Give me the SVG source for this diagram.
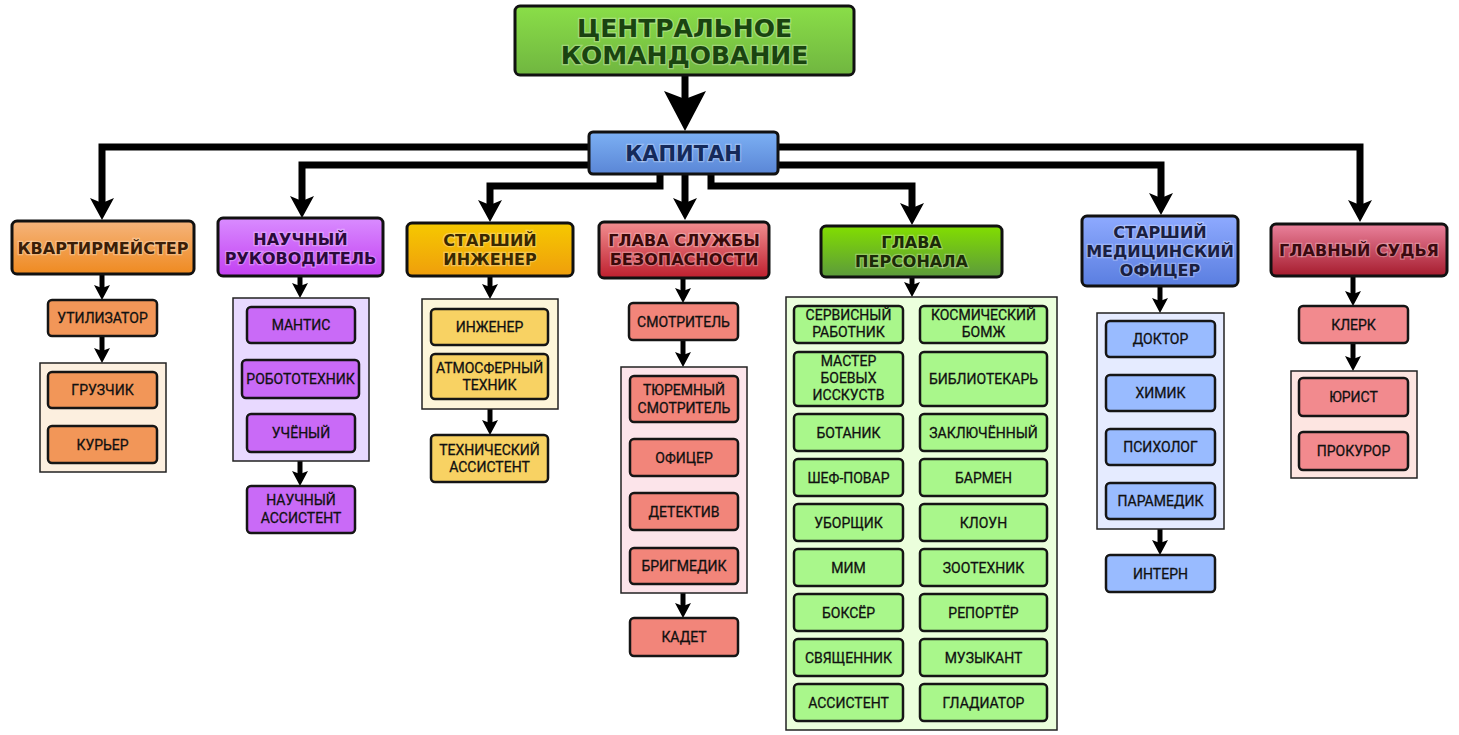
<svg xmlns="http://www.w3.org/2000/svg" width="1459" height="735" viewBox="0 0 1459 735">
<defs>
<linearGradient id="gCentral" x1="0" y1="0" x2="0" y2="1"><stop offset="0" stop-color="#8ade48"/><stop offset="1" stop-color="#70b640"/></linearGradient>
<linearGradient id="gCaptain" x1="0" y1="0" x2="0" y2="1"><stop offset="0" stop-color="#7cb0f4"/><stop offset="1" stop-color="#5a86d6"/></linearGradient>
<linearGradient id="gOrange" x1="0" y1="0" x2="0" y2="1"><stop offset="0" stop-color="#f5b47c"/><stop offset="1" stop-color="#ef8a20"/></linearGradient>
<linearGradient id="gPurple" x1="0" y1="0" x2="0" y2="1"><stop offset="0" stop-color="#d98cff"/><stop offset="1" stop-color="#c340f2"/></linearGradient>
<linearGradient id="gYellow" x1="0" y1="0" x2="0" y2="1"><stop offset="0" stop-color="#f6c900"/><stop offset="1" stop-color="#ef9e0c"/></linearGradient>
<linearGradient id="gRed" x1="0" y1="0" x2="0" y2="1"><stop offset="0" stop-color="#f28e90"/><stop offset="1" stop-color="#be1f2e"/></linearGradient>
<linearGradient id="gGreen" x1="0" y1="0" x2="0" y2="1"><stop offset="0" stop-color="#82de00"/><stop offset="1" stop-color="#5c9a3c"/></linearGradient>
<linearGradient id="gBlue" x1="0" y1="0" x2="0" y2="1"><stop offset="0" stop-color="#8eaaff"/><stop offset="1" stop-color="#5a7ee0"/></linearGradient>
<linearGradient id="gJudge" x1="0" y1="0" x2="0" y2="1"><stop offset="0" stop-color="#ea829c"/><stop offset="1" stop-color="#a61c2e"/></linearGradient>
<marker id="mBig" markerUnits="userSpaceOnUse" orient="auto" refX="8" refY="0" markerWidth="50" markerHeight="50" overflow="visible"><path d="M0,-21 L40,0 L0,21 L8,0 z" fill="#000"/></marker>
<marker id="mMed" markerUnits="userSpaceOnUse" orient="auto" refX="5" refY="0" markerWidth="30" markerHeight="30" overflow="visible"><path d="M0,-12 L22,0 L0,12 L5,0 z" fill="#000"/></marker>
<marker id="mSm" markerUnits="userSpaceOnUse" orient="auto" refX="3" refY="0" markerWidth="20" markerHeight="20" overflow="visible"><path d="M0,-8 L15,0 L0,8 L3,0 z" fill="#000"/></marker>
<style>
.head{stroke:#111;stroke-width:3}
.item{stroke:#151515;stroke-width:2.5}
.cont{stroke:#222;stroke-width:1.5}
.ht{font-family:"DejaVu Sans",sans-serif;font-weight:bold;font-size:16px;text-anchor:middle;paint-order:stroke;stroke:rgba(255,255,255,0.3);stroke-width:2.5px}
.it{font-family:Roboto,"Liberation Sans",sans-serif;font-size:14px;text-anchor:middle;fill:#111;stroke:#111;stroke-width:0.3px}
.big{fill:none;stroke:#000;stroke-width:7;stroke-linejoin:miter;stroke-linecap:butt}
.sm{fill:none;stroke:#000;stroke-width:5}
.cOr{fill:#f29658}.cPu{fill:#c96af7}.cYe{fill:#f8d263}.cRe{fill:#f2857a}.cGr{fill:#a9f78b}.cBl{fill:#99bbff}.cPk{fill:#f28a8e}
</style>
</defs>
<rect width="1459" height="735" fill="#fff"/>

<g id="connectors">
<path class="big" d="M685,75 V99" stroke-width="12" marker-end="url(#mBig)"/>
<path class="big" d="M589,147 H102 V203" marker-end="url(#mMed)"/>
<path class="big" d="M589,165 H302 V201" marker-end="url(#mMed)"/>
<path class="big" d="M660,170 V186 H490 V205" marker-end="url(#mMed)"/>
<path class="big" d="M685,170 V203" marker-end="url(#mMed)"/>
<path class="big" d="M711,170 V186 H912 V208" marker-end="url(#mMed)"/>
<path class="big" d="M778,165 H1161 V198" marker-end="url(#mMed)"/>
<path class="big" d="M778,147 H1360 V205" marker-end="url(#mMed)"/>
<path class="sm" d="M102,274 V288" marker-end="url(#mSm)"/>
<path class="sm" d="M102,336 V351" marker-end="url(#mSm)"/>
<path class="sm" d="M300,276 V286" marker-end="url(#mSm)"/>
<path class="sm" d="M300,461 V474" marker-end="url(#mSm)"/>
<path class="sm" d="M490,276 V287" marker-end="url(#mSm)"/>
<path class="sm" d="M490,409 V423" marker-end="url(#mSm)"/>
<path class="sm" d="M683,278 V291" marker-end="url(#mSm)"/>
<path class="sm" d="M683,340 V355" marker-end="url(#mSm)"/>
<path class="sm" d="M683,593 V606" marker-end="url(#mSm)"/>
<path class="sm" d="M912,277 V285" marker-end="url(#mSm)"/>
<path class="sm" d="M1160,286 V301" marker-end="url(#mSm)"/>
<path class="sm" d="M1160,529 V543" marker-end="url(#mSm)"/>
<path class="sm" d="M1353,276 V294" marker-end="url(#mSm)"/>
<path class="sm" d="M1353,343 V359" marker-end="url(#mSm)"/>
</g>

<g id="central">
<rect class="head" x="515" y="6" width="339" height="69" rx="5" fill="url(#gCentral)"/>
<text class="ht" x="684.5" y="37" fill="#1a4410" style="font-size:25px">ЦЕНТРАЛЬНОЕ</text>
<text class="ht" x="684.5" y="64" fill="#1a4410" style="font-size:25px">КОМАНДОВАНИЕ</text>
</g>
<g id="captain">
<rect class="head" x="589" y="132" width="189" height="42" rx="4" fill="url(#gCaptain)"/>
<text class="ht" x="683.5" y="161" fill="#152a5a" style="font-size:21px">КАПИТАН</text>
</g>

<g id="quartermaster">
<rect class="head" x="12" y="221" width="182" height="53" rx="5" fill="url(#gOrange)"/>
<text class="ht" x="103" y="254" fill="#3a1e08">КВАРТИРМЕЙСТЕР</text>
</g>
<g id="disposal"><rect class="item cOr" x="48" y="300" width="109" height="36" rx="4"/><text class="it" x="102.5" y="323">УТИЛИЗАТОР</text></g>
<g id="cargo-group"><rect class="cont" x="40" y="363" width="126" height="109" fill="#fcefdf"/></g>
<g id="loader"><rect class="item cOr" x="48" y="372" width="109" height="36" rx="4"/><text class="it" x="102.5" y="395">ГРУЗЧИК</text></g>
<g id="courier"><rect class="item cOr" x="48" y="426" width="109" height="37" rx="4"/><text class="it" x="102.5" y="449.5">КУРЬЕР</text></g>

<g id="research-director">
<rect class="head" x="218" y="218" width="165" height="58" rx="5" fill="url(#gPurple)"/>
<text class="ht" x="300.5" y="245" fill="#2a0a3a">НАУЧНЫЙ</text>
<text class="ht" x="300.5" y="264" fill="#2a0a3a">РУКОВОДИТЕЛЬ</text>
</g>
<g id="science-group"><rect class="cont" x="233" y="298" width="136" height="163" fill="#e8d9ff"/></g>
<g id="mantis"><rect class="item cPu" x="247" y="307" width="108" height="36" rx="4"/><text class="it" x="301" y="330">МАНТИС</text></g>
<g id="roboticist"><rect class="item cPu" x="242" y="360" width="117" height="38" rx="4"/><text class="it" x="300.5" y="384">РОБОТОТЕХНИК</text></g>
<g id="scientist"><rect class="item cPu" x="247" y="414" width="108" height="38" rx="4"/><text class="it" x="301" y="438">УЧЁНЫЙ</text></g>
<g id="research-assistant"><rect class="item cPu" x="247" y="486" width="108" height="47" rx="4"/><text class="it" x="301" y="505">НАУЧНЫЙ</text><text class="it" x="301" y="523">АССИСТЕНТ</text></g>

<g id="chief-engineer">
<rect class="head" x="407" y="223" width="166" height="53" rx="5" fill="url(#gYellow)"/>
<text class="ht" x="490" y="246" fill="#3a2800">СТАРШИЙ</text>
<text class="ht" x="490" y="265" fill="#3a2800">ИНЖЕНЕР</text>
</g>
<g id="engineering-group"><rect class="cont" x="422" y="299" width="136" height="110" fill="#fdf6da"/></g>
<g id="engineer"><rect class="item cYe" x="431" y="309" width="117" height="36" rx="4"/><text class="it" x="489.5" y="332">ИНЖЕНЕР</text></g>
<g id="atmos-tech"><rect class="item cYe" x="431" y="354" width="117" height="45" rx="4"/><text class="it" x="489.5" y="373">АТМОСФЕРНЫЙ</text><text class="it" x="489.5" y="390">ТЕХНИК</text></g>
<g id="tech-assistant"><rect class="item cYe" x="431" y="435" width="117" height="47" rx="4"/><text class="it" x="489.5" y="455">ТЕХНИЧЕСКИЙ</text><text class="it" x="489.5" y="472">АССИСТЕНТ</text></g>

<g id="head-of-security">
<rect class="head" x="599" y="222" width="170" height="56" rx="5" fill="url(#gRed)"/>
<text class="ht" x="684" y="246" fill="#3a0a0a">ГЛАВА СЛУЖБЫ</text>
<text class="ht" x="684" y="265" fill="#3a0a0a">БЕЗОПАСНОСТИ</text>
</g>
<g id="warden"><rect class="item cRe" x="629" y="303" width="109" height="37" rx="4"/><text class="it" x="683.5" y="326.5">СМОТРИТЕЛЬ</text></g>
<g id="security-group"><rect class="cont" x="621" y="367" width="126" height="226" fill="#fce4ea"/></g>
<g id="prison-warden"><rect class="item cRe" x="630" y="376" width="108" height="46" rx="4"/><text class="it" x="684" y="395">ТЮРЕМНЫЙ</text><text class="it" x="684" y="413">СМОТРИТЕЛЬ</text></g>
<g id="officer"><rect class="item cRe" x="630" y="439" width="108" height="37" rx="4"/><text class="it" x="684" y="462.5">ОФИЦЕР</text></g>
<g id="detective"><rect class="item cRe" x="630" y="493" width="108" height="37" rx="4"/><text class="it" x="684" y="516.5">ДЕТЕКТИВ</text></g>
<g id="brigmedic"><rect class="item cRe" x="630" y="548" width="108" height="36" rx="4"/><text class="it" x="684" y="571">БРИГМЕДИК</text></g>
<g id="cadet"><rect class="item cRe" x="630" y="618" width="108" height="38" rx="4"/><text class="it" x="684" y="642">КАДЕТ</text></g>

<g id="head-of-personnel">
<rect class="head" x="821" y="226" width="181" height="51" rx="5" fill="url(#gGreen)"/>
<text class="ht" x="911.5" y="248" fill="#1c2a08">ГЛАВА</text>
<text class="ht" x="911.5" y="267" fill="#1c2a08">ПЕРСОНАЛА</text>
</g>
<g id="service-group"><rect class="cont" x="786" y="297" width="271" height="433" fill="#ebffdc"/></g>
<g id="service-worker"><rect class="item cGr" x="794" y="306" width="109" height="37" rx="4"/><text class="it" x="848.5" y="320">СЕРВИСНЫЙ</text><text class="it" x="848.5" y="337">РАБОТНИК</text></g>
<g id="space-bum"><rect class="item cGr" x="920" y="306" width="127" height="37" rx="4"/><text class="it" x="983.5" y="320">КОСМИЧЕСКИЙ</text><text class="it" x="983.5" y="337">БОМЖ</text></g>
<g id="martial-artist"><rect class="item cGr" x="794" y="352" width="109" height="54" rx="4"/><text class="it" x="848.5" y="366">МАСТЕР</text><text class="it" x="848.5" y="383">БОЕВЫХ</text><text class="it" x="848.5" y="400">ИССКУСТВ</text></g>
<g id="librarian"><rect class="item cGr" x="920" y="352" width="127" height="54" rx="4"/><text class="it" x="983.5" y="384">БИБЛИОТЕКАРЬ</text></g>
<g id="botanist"><rect class="item cGr" x="794" y="414" width="109" height="37" rx="4"/><text class="it" x="848.5" y="437.5">БОТАНИК</text></g>
<g id="prisoner"><rect class="item cGr" x="920" y="414" width="127" height="37" rx="4"/><text class="it" x="983.5" y="437.5">ЗАКЛЮЧЁННЫЙ</text></g>
<g id="chef"><rect class="item cGr" x="794" y="459" width="109" height="37" rx="4"/><text class="it" x="848.5" y="482.5">ШЕФ-ПОВАР</text></g>
<g id="bartender"><rect class="item cGr" x="920" y="459" width="127" height="37" rx="4"/><text class="it" x="983.5" y="482.5">БАРМЕН</text></g>
<g id="janitor"><rect class="item cGr" x="794" y="504" width="109" height="37" rx="4"/><text class="it" x="848.5" y="527.5">УБОРЩИК</text></g>
<g id="clown"><rect class="item cGr" x="920" y="504" width="127" height="37" rx="4"/><text class="it" x="983.5" y="527.5">КЛОУН</text></g>
<g id="mime"><rect class="item cGr" x="794" y="549" width="109" height="37" rx="4"/><text class="it" x="848.5" y="572.5">МИМ</text></g>
<g id="zookeeper"><rect class="item cGr" x="920" y="549" width="127" height="37" rx="4"/><text class="it" x="983.5" y="572.5">ЗООТЕХНИК</text></g>
<g id="boxer"><rect class="item cGr" x="794" y="594" width="109" height="37" rx="4"/><text class="it" x="848.5" y="617.5">БОКСЁР</text></g>
<g id="reporter"><rect class="item cGr" x="920" y="594" width="127" height="37" rx="4"/><text class="it" x="983.5" y="617.5">РЕПОРТЁР</text></g>
<g id="chaplain"><rect class="item cGr" x="794" y="639" width="109" height="37" rx="4"/><text class="it" x="848.5" y="662.5">СВЯЩЕННИК</text></g>
<g id="musician"><rect class="item cGr" x="920" y="639" width="127" height="37" rx="4"/><text class="it" x="983.5" y="662.5">МУЗЫКАНТ</text></g>
<g id="assistant"><rect class="item cGr" x="794" y="684" width="109" height="37" rx="4"/><text class="it" x="848.5" y="707.5">АССИСТЕНТ</text></g>
<g id="gladiator"><rect class="item cGr" x="920" y="684" width="127" height="37" rx="4"/><text class="it" x="983.5" y="707.5">ГЛАДИАТОР</text></g>

<g id="chief-medical-officer">
<rect class="head" x="1082" y="216" width="156" height="70" rx="5" fill="url(#gBlue)"/>
<text class="ht" x="1160" y="238" fill="#1a2040">СТАРШИЙ</text>
<text class="ht" x="1160" y="257" fill="#1a2040">МЕДИЦИНСКИЙ</text>
<text class="ht" x="1160" y="276" fill="#1a2040">ОФИЦЕР</text>
</g>
<g id="medical-group"><rect class="cont" x="1097" y="313" width="127" height="216" fill="#e5ebff"/></g>
<g id="doctor"><rect class="item cBl" x="1106" y="321" width="109" height="36" rx="4"/><text class="it" x="1160.5" y="344">ДОКТОР</text></g>
<g id="chemist"><rect class="item cBl" x="1106" y="375" width="109" height="36" rx="4"/><text class="it" x="1160.5" y="398">ХИМИК</text></g>
<g id="psychologist"><rect class="item cBl" x="1106" y="429" width="109" height="36" rx="4"/><text class="it" x="1160.5" y="452">ПСИХОЛОГ</text></g>
<g id="paramedic"><rect class="item cBl" x="1106" y="483" width="109" height="36" rx="4"/><text class="it" x="1160.5" y="506">ПАРАМЕДИК</text></g>
<g id="intern"><rect class="item cBl" x="1106" y="555" width="109" height="37" rx="4"/><text class="it" x="1160.5" y="578.5">ИНТЕРН</text></g>

<g id="chief-justice">
<rect class="head" x="1271" y="224" width="176" height="52" rx="5" fill="url(#gJudge)"/>
<text class="ht" x="1359" y="256" fill="#3a0a10">ГЛАВНЫЙ СУДЬЯ</text>
</g>
<g id="clerk"><rect class="item cPk" x="1299" y="306" width="109" height="37" rx="4"/><text class="it" x="1353.5" y="329.5">КЛЕРК</text></g>
<g id="law-group"><rect class="cont" x="1291" y="371" width="126" height="107" fill="#fde5e1"/></g>
<g id="lawyer"><rect class="item cPk" x="1299" y="378" width="109" height="38" rx="4"/><text class="it" x="1353.5" y="402">ЮРИСТ</text></g>
<g id="prosecutor"><rect class="item cPk" x="1299" y="432" width="109" height="38" rx="4"/><text class="it" x="1353.5" y="456">ПРОКУРОР</text></g>
</svg>
